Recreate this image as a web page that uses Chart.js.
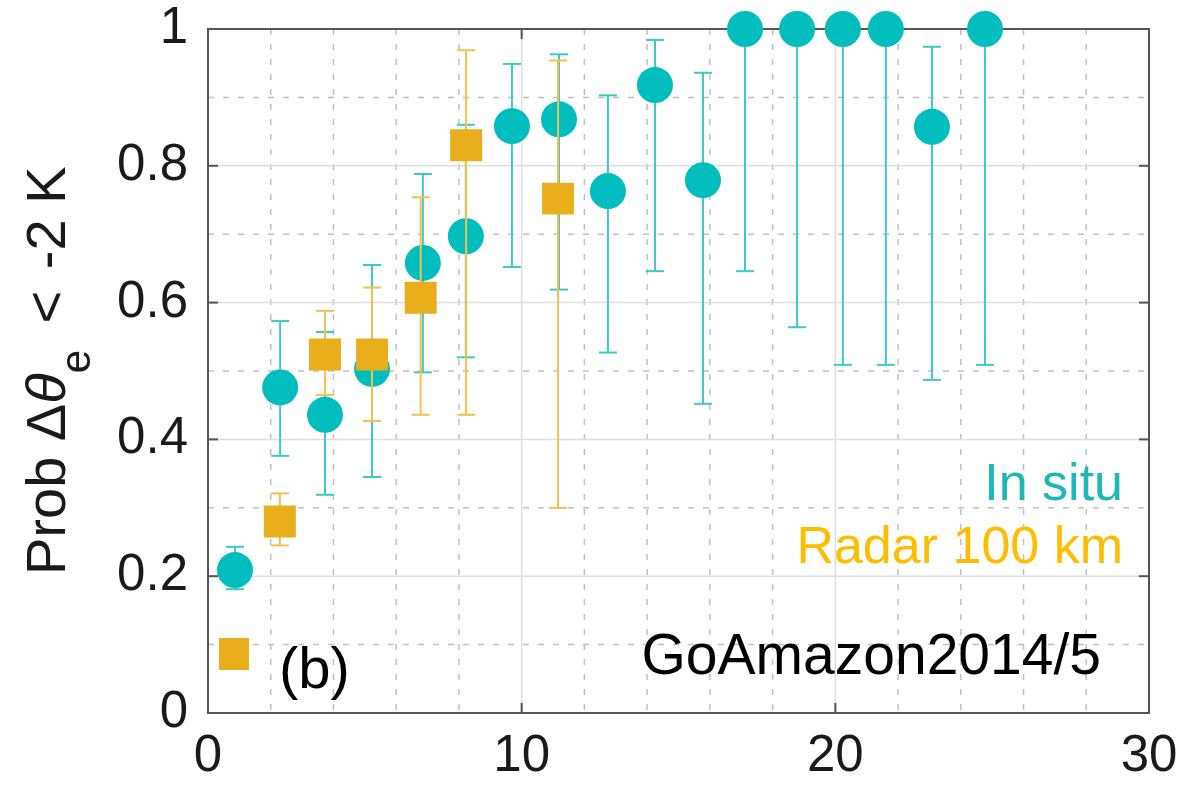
<!DOCTYPE html>
<html>
<head>
<meta charset="utf-8">
<script src="https://cdn.jsdelivr.net/npm/chart.js@4.4.1/dist/chart.umd.min.js"></script>
<style>
  html, body { margin: 0; padding: 0; background: #fff; }
</style>
</head>
<body>
<canvas id="probChart" width="1179" height="786"></canvas>
<script>
// bin positions (x) and probabilities
const inSituX = [0.86, 2.3, 3.73, 5.23, 6.85, 8.22, 9.69, 11.19, 12.75, 14.25, 15.78, 17.12, 18.78, 20.24, 21.61, 23.08, 24.77];
const inSituProb = [0.209, 0.476, 0.436, 0.503, 0.658, 0.697, 0.858, 0.868, 0.763, 0.918, 0.779, 1, 1, 1, 1, 0.857, 1];
const inSituLow = [0.181, 0.376, 0.319, 0.345, 0.498, 0.52, 0.652, 0.619, 0.527, 0.646, 0.452, 0.646, 0.564, 0.509, 0.509, 0.487, 0.509];
const inSituHigh = [0.243, 0.573, 0.557, 0.655, 0.788, 0.86, 0.949, 0.963, 0.903, 0.984, 0.936, 1, 1, 1, 1, 0.974, 1];

const radarX = [2.29, 3.73, 5.23, 6.78, 8.23, 11.16];
const radarProb = [0.28, 0.524, 0.524, 0.607, 0.83, 0.752];
const radarLow = [0.245, 0.465, 0.427, 0.436, 0.436, 0.30];
const radarHigh = [0.321, 0.588, 0.622, 0.754, 0.969, 0.954];

const xTicks = [0, 10, 20, 30];
const xTickLabels = ['0', '10', '20', '30'];
const yTicks = [0, 0.2, 0.4, 0.6, 0.8, 1];
const yTickLabels = ['0', '0.2', '0.4', '0.6', '0.8', '1'];
const xMinorTicks = [2, 4, 6, 8, 12, 14, 16, 18, 22, 24, 26, 28];
const yMinorTicks = [0.1, 0.3, 0.5, 0.7, 0.9];

const FONT = '"Liberation Sans", Arial, Helvetica, sans-serif';
const CYAN = '#00bebe';
const CYAN_BAR = '#3cc9c9';
const GOLD = '#e8ae1c';
const GOLD_BAR = '#f2c14e';

function seg(ctx, x1, y1, x2, y2) {
  ctx.beginPath();
  ctx.moveTo(x1, y1);
  ctx.lineTo(x2, y2);
  ctx.stroke();
}

// keep the plot box where the figure has it: no extra room for edge labels
function noEdgePadding(s) {
  s.paddingTop = 0;
  s.paddingBottom = 0;
  s.paddingLeft = 0;
  s.paddingRight = 0;
}

const frame = {
  id: 'frame',
  beforeDatasetsDraw(chart) {
    const { ctx, chartArea: a, scales: { x, y } } = chart;
    ctx.save();
    ctx.lineWidth = 1.5;

    // dashed minor grid
    ctx.strokeStyle = '#c0c0c0';
    ctx.setLineDash([6, 9]);
    xMinorTicks.forEach(v => { const p = x.getPixelForValue(v); seg(ctx, p, a.top, p, a.bottom); });
    yMinorTicks.forEach(v => { const p = y.getPixelForValue(v); seg(ctx, a.left, p, a.right, p); });
    ctx.setLineDash([]);

    // solid major grid
    ctx.strokeStyle = '#dedede';
    xTicks.forEach(v => { const p = x.getPixelForValue(v); seg(ctx, p, a.top, p, a.bottom); });
    yTicks.forEach(v => { const p = y.getPixelForValue(v); seg(ctx, a.left, p, a.right, p); });

    // box + inward ticks
    ctx.strokeStyle = '#555';
    ctx.lineWidth = 2;
    ctx.strokeRect(a.left, a.top, a.width, a.height);
    const tl = 10;
    xTicks.forEach(v => {
      const p = x.getPixelForValue(v);
      seg(ctx, p, a.bottom, p, a.bottom - tl);
      seg(ctx, p, a.top, p, a.top + tl);
    });
    yTicks.forEach(v => {
      const p = y.getPixelForValue(v);
      seg(ctx, a.left, p, a.left + tl, p);
      seg(ctx, a.right, p, a.right - tl, p);
    });
    ctx.restore();
  },

  beforeDatasetDraw(chart, args) {
    const ds = chart.data.datasets[args.index];
    const { ctx, scales: { x, y } } = chart;
    ctx.save();
    ctx.strokeStyle = ds.barColor;
    ctx.lineWidth = 2;
    ds.data.forEach((pt, i) => {
      const px = x.getPixelForValue(pt.x);
      const top = y.getPixelForValue(ds.errHigh[i]);
      const bot = y.getPixelForValue(ds.errLow[i]);
      seg(ctx, px, top, px, bot);
      seg(ctx, px - 9, top, px + 9, top);
      seg(ctx, px - 9, bot, px + 9, bot);
    });
    ctx.restore();
  },

  afterDatasetsDraw(chart) {
    const { ctx, chartArea: a } = chart;
    ctx.save();
    ctx.textBaseline = 'alphabetic';

    ctx.textAlign = 'right';
    ctx.font = '52px ' + FONT;
    ctx.fillStyle = '#1ab8b8';
    ctx.fillText('In situ', a.right - 26, a.top + 471);
    ctx.fillStyle = '#ffbd00';
    ctx.fillText('Radar 100 km', a.right - 26, a.top + 534);
    ctx.font = '57px ' + FONT;
    ctx.fillStyle = '#000';
    ctx.fillText('GoAmazon2014/5', a.right - 48, a.top + 645);

    // panel label with the square key
    ctx.fillStyle = GOLD;
    ctx.fillRect(a.left + 11, a.top + 609, 30, 32);
    ctx.textAlign = 'left';
    ctx.fillStyle = '#000';
    ctx.font = '58px ' + FONT;
    ctx.fillText('(b)', a.left + 71, a.top + 659);

    // y axis title: Prob Δθ_e < -2 K
    ctx.translate(65, 575);
    ctx.rotate(-Math.PI / 2);
    ctx.fillStyle = '#1a1a1a';
    let cx = 0;
    const put = (txt, font, dy, gap) => {
      ctx.font = font;
      ctx.fillText(txt, cx, dy);
      cx += ctx.measureText(txt).width + gap;
    };
    put('Prob \u0394', '56px ' + FONT, 0, 0);
    put('\u03B8', 'italic 56px ' + FONT, 0, 0);
    put('e', '42px ' + FONT, 25, 11);
    put(' <', '56px ' + FONT, 0, 6);
    put(' -2 K', '56px ' + FONT, 0, 0);
    ctx.restore();
  }
};

new Chart(document.getElementById('probChart').getContext('2d'), {
  type: 'scatter',
  data: {
    datasets: [
      {
        label: 'In situ',
        data: inSituX.map((v, i) => ({ x: v, y: inSituProb[i] })),
        errLow: inSituLow,
        errHigh: inSituHigh,
        barColor: CYAN_BAR,
        pointStyle: 'circle',
        pointRadius: 18,
        pointBackgroundColor: CYAN,
        pointBorderWidth: 0,
        showLine: false,
        clip: false,
        order: 2
      },
      {
        label: 'Radar 100 km',
        data: radarX.map((v, i) => ({ x: v, y: radarProb[i] })),
        errLow: radarLow,
        errHigh: radarHigh,
        barColor: GOLD_BAR,
        pointStyle: 'rect',
        pointRadius: 22.6,
        pointBackgroundColor: GOLD,
        pointBorderWidth: 0,
        showLine: false,
        clip: false,
        order: 1
      }
    ]
  },
  options: {
    responsive: false,
    animation: false,
    events: [],
    layout: { padding: { left: 0, top: 29, right: 30, bottom: 0 } },
    plugins: { legend: { display: false }, tooltip: { enabled: false } },
    scales: {
      x: {
        type: 'linear',
        min: 0, max: 30,
        afterBuildTicks: s => { s.ticks = xTicks.map(v => ({ value: v })); },
        afterFit: s => { s.height = 73; noEdgePadding(s); },
        grid: { display: false, drawTicks: false },
        border: { display: false },
        ticks: {
          padding: 18, color: '#1a1a1a',
          font: { family: FONT, size: 51, lineHeight: 1 },
          callback: (v, i) => xTickLabels[i]
        }
      },
      y: {
        type: 'linear',
        min: 0, max: 1,
        afterBuildTicks: s => { s.ticks = yTicks.map(v => ({ value: v })); },
        afterFit: s => { s.width = 208; noEdgePadding(s); },
        grid: { display: false, drawTicks: false },
        border: { display: false },
        ticks: {
          padding: 20, color: '#1a1a1a',
          font: { family: FONT, size: 51, lineHeight: 1 },
          callback: (v, i) => yTickLabels[i]
        }
      }
    }
  },
  plugins: [frame]
});
</script>
</body>
</html>
